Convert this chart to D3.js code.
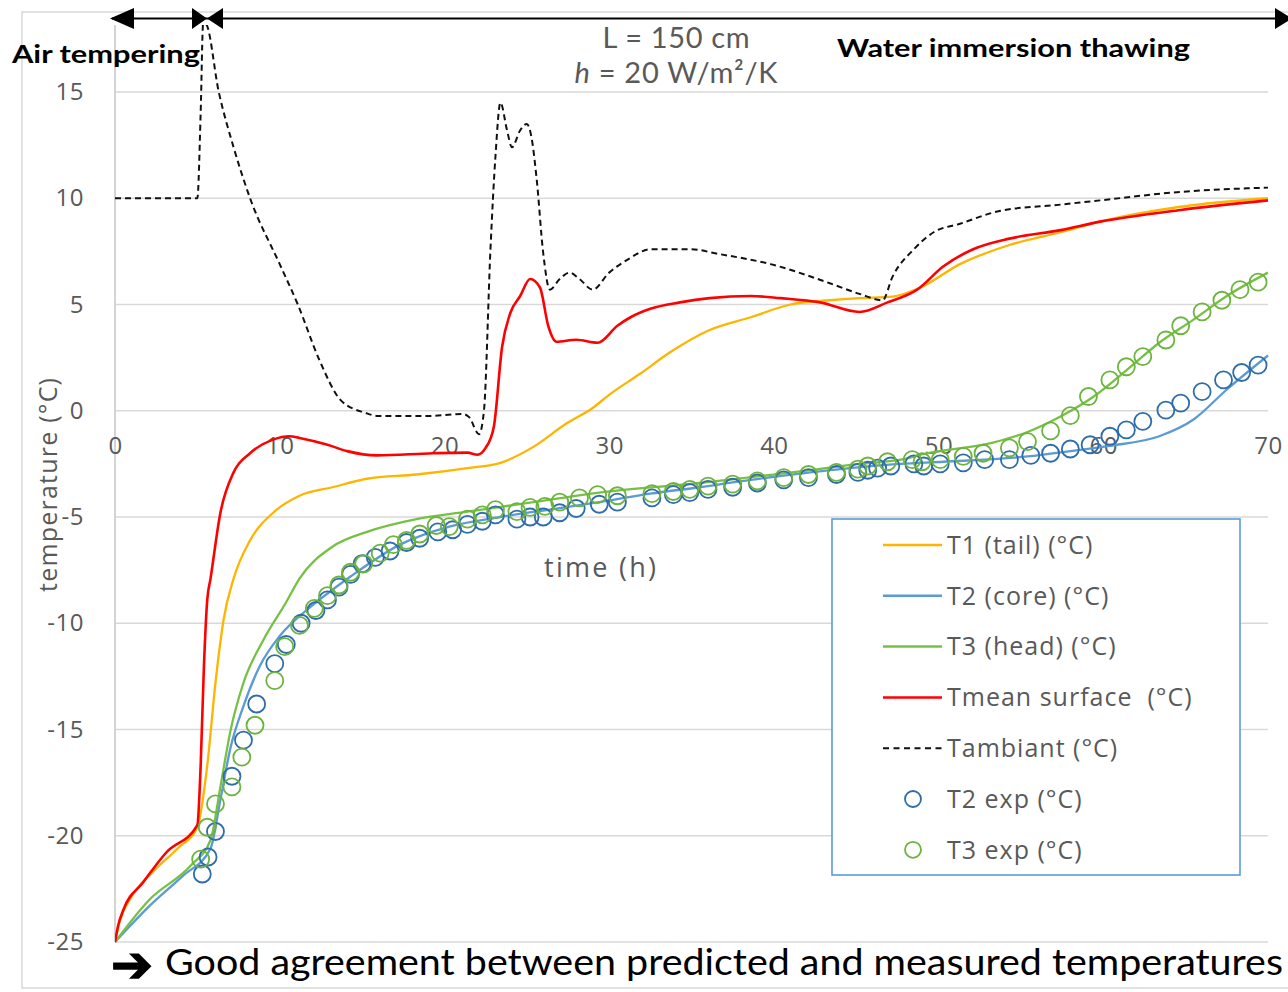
<!DOCTYPE html>
<html>
<head>
<meta charset="utf-8">
<script src="https://cdn.jsdelivr.net/npm/d3@7"></script>
<style>
  html, body { margin: 0; padding: 0; background: #fff; }
  svg { display: block; }
</style>
</head>
<body>
<svg id="chart" width="1288" height="992"></svg>
<script>
// ---------- DATA ----------
const xTicks = [0, 10, 20, 30, 40, 50, 60, 70];
const yTicks = [-25, -20, -15, -10, -5, 0, 5, 10, 15];

const seriesNames = ["T1 (tail) (°C)", "T2 (core) (°C)", "T3 (head) (°C)", "Tmean surface  (°C)", "Tambiant (°C)", "T2 exp (°C)", "T3 exp (°C)"];

const T1_tail = [[0,-25],[0.3,-24],[0.9,-23],[2.3,-21.7],[3.8,-20.6],[5.0,-19.6],[5.6,-16.7],[6.1,-12.8],[6.6,-9.8],[7.2,-7.9],[8.2,-6.1],[9.6,-4.8],[11.2,-4.0],[13.2,-3.6],[15.3,-3.2],[18.3,-3.0],[21.4,-2.7],[23.4,-2.45],[25.4,-1.7],[27.4,-0.6],[29,0.13],[30,0.75],[31.9,1.75],[33.7,2.75],[36.1,3.8],[38.6,4.4],[41,5.0],[43.4,5.2],[45.2,5.3],[47.2,5.37],[48.9,5.8],[51.3,6.9],[54.3,7.8],[57.4,8.4],[59.8,8.9],[64.7,9.6],[70,10.0]];

const T2_core = [[0,-25],[2.1,-23.3],[4.1,-21.9],[5.8,-20.6],[6.4,-18.3],[7.0,-15.9],[7.8,-13.9],[8.8,-12.0],[10,-10.6],[11.6,-9.4],[12.9,-8.6],[14.3,-7.8],[17.3,-6.3],[20.3,-5.45],[23.4,-5.0],[26.4,-4.65],[29.4,-4.3],[32.5,-3.9],[35.5,-3.6],[38.6,-3.25],[41.6,-2.96],[44.6,-2.7],[47.7,-2.5],[50.3,-2.4],[55.4,-2.15],[58,-1.9],[60.4,-1.65],[63.4,-1.2],[65.5,-0.4],[67.5,1.0],[70,2.6]];

const T3_head = [[0,-25],[2.1,-23],[4.6,-21.4],[5.8,-20.2],[6.4,-17.7],[7,-15.1],[7.8,-12.8],[9,-10.8],[10.4,-9.0],[11.2,-7.9],[13.2,-6.4],[15.3,-5.7],[18.3,-5.1],[21.4,-4.75],[25.4,-4.3],[29.4,-3.85],[35.5,-3.4],[41.6,-2.85],[45.2,-2.5],[47.7,-2.3],[49.3,-2.0],[53.3,-1.5],[55.4,-1.0],[57.4,-0.27],[59.4,0.66],[61.4,1.9],[63.4,3.2],[65.5,4.3],[67.5,5.4],[70,6.5]];

const Tmean_surface = [[0,-25],[0.2,-24.2],[0.5,-23.5],[1.7,-22.2],[3.1,-20.8],[5.0,-19.5],[5.2,-16.7],[5.4,-12],[5.6,-8.9],[5.8,-7.9],[6.4,-4.8],[7.2,-2.9],[8.2,-2.0],[9.6,-1.36],[10.6,-1.2],[11.2,-1.28],[12.9,-1.6],[14.1,-1.9],[15.9,-2.1],[19.3,-2.0],[21.4,-1.97],[22.0,-2.07],[22.5,-1.75],[23.0,-0.75],[23.5,3.0],[24.0,4.6],[24.6,5.4],[25.2,6.2],[25.8,5.8],[26.3,4.0],[26.8,3.25],[28,3.34],[29.3,3.2],[30.5,4.0],[31.3,4.4],[32.5,4.8],[34.3,5.1],[36.1,5.3],[38.6,5.4],[40.4,5.3],[42.8,5.1],[45.2,4.65],[46.9,5.1],[48.7,5.7],[50.3,6.8],[52.1,7.6],[54.3,8.1],[57.4,8.5],[59.8,8.9],[64.7,9.45],[70,9.9]];

const Tambiant = [[0,10],[5.0,10],[5.2,14],[5.35,18.2],[5.5,18.2],[6.3,15],[7.2,12.4],[8.2,10],[10,6.9],[11.1,5],[12.4,2.4],[13.7,0.5],[15.2,-0.1],[16,-0.25],[19,-0.25],[21.1,-0.15],[21.5,-0.3],[22.1,-1.1],[22.4,0],[22.8,7.7],[23.1,12],[23.4,14.5],[23.8,13.2],[24.1,12.4],[24.6,13.2],[25,13.5],[25.3,12.8],[25.6,10.9],[26,7.4],[26.4,5.7],[27.0,6.2],[27.6,6.5],[28.2,6.2],[29,5.7],[30,6.5],[31.1,7.1],[32.5,7.6],[35,7.6],[36.5,7.4],[39.8,6.9],[43.4,6.0],[45.2,5.5],[46.6,5.2],[47.2,6.3],[48.5,7.6],[49.7,8.4],[51.3,8.8],[53.7,9.4],[57.4,9.7],[59.8,9.9],[64.7,10.3],[70,10.5]];

const T2_exp = [[5.3,-21.8],[5.65,-21],[6.1,-19.8],[7.1,-17.2],[7.8,-15.5],[8.6,-13.8],[9.7,-11.9],[10.4,-11.0],[11.3,-10.0],[12.2,-9.4],[12.9,-8.9],[13.6,-8.3],[14.3,-7.7],[15.0,-7.2],[15.8,-6.9],[16.7,-6.6],[17.7,-6.2],[18.5,-6.0],[19.6,-5.7],[20.5,-5.6],[21.4,-5.35],[22.3,-5.2],[23.1,-4.9],[24.4,-5.1],[25.2,-5.0],[26,-5.0],[27,-4.8],[28,-4.6],[29.4,-4.4],[30.5,-4.3],[32.6,-4.1],[33.9,-3.95],[34.9,-3.85],[36,-3.7],[37.5,-3.6],[39,-3.4],[40.6,-3.25],[42.1,-3.15],[43.8,-3.0],[45.1,-2.9],[45.7,-2.8],[46.3,-2.7],[47.1,-2.6],[48.5,-2.5],[49.1,-2.6],[50.1,-2.5],[51.5,-2.45],[52.8,-2.3],[54.3,-2.3],[55.6,-2.1],[56.8,-2.0],[58,-1.8],[59.2,-1.6],[60.4,-1.2],[61.4,-0.9],[62.4,-0.5],[63.8,0.03],[64.7,0.36],[66,0.9],[67.3,1.45],[68.4,1.8],[69.4,2.15]];

const T3_exp = [[5.2,-21.1],[5.6,-19.6],[6.1,-18.5],[7.1,-17.7],[7.7,-16.3],[8.5,-14.8],[9.7,-12.7],[10.3,-11.1],[11.2,-10.1],[12.1,-9.3],[12.9,-8.7],[13.6,-8.2],[14.3,-7.6],[15.1,-7.2],[16.1,-6.7],[16.9,-6.3],[17.7,-6.1],[18.5,-5.8],[19.5,-5.4],[20.3,-5.45],[21.4,-5.1],[22.3,-4.9],[23.1,-4.65],[24.4,-4.75],[25.2,-4.55],[26.1,-4.5],[27,-4.3],[28.2,-4.1],[29.3,-3.95],[30.5,-4.0],[32.6,-3.9],[33.9,-3.8],[34.9,-3.7],[36,-3.55],[37.5,-3.45],[39,-3.3],[40.6,-3.15],[42.1,-3.0],[43.8,-2.9],[45.1,-2.75],[45.7,-2.6],[46.9,-2.4],[48.4,-2.3],[49,-2.4],[50.1,-2.3],[51.5,-2.15],[52.7,-2.0],[54.3,-1.75],[55.4,-1.45],[56.8,-0.95],[58,-0.23],[59.1,0.67],[60.4,1.45],[61.4,2.07],[62.4,2.55],[63.8,3.33],[64.7,4.0],[66,4.65],[67.2,5.2],[68.3,5.7],[69.4,6.05]];

// ---------- STYLES ----------
const colors = {
  t1: "#FFB400", t2: "#5B9BD5", t3: "#76C043", tmean: "#FF0000", tamb: "#111111",
  t2exp: "#2E6DAA", t3exp: "#6DB33F"
};
const axisFont = "'Open Sans', sans-serif";

// ---------- CHART ----------
const svg = d3.select("#chart");
const x = d3.scaleLinear().domain([0, 70]).range([115, 1268]);
const y = d3.scaleLinear().domain([-25, 15]).range([942, 92]);
const plotTop = y(18.15);

svg.append("rect").attr("width", 1288).attr("height", 992).attr("fill", "#fff");

// chart frame
svg.append("path").attr("d", "M1292,12 H22 V988 H1292")
  .attr("fill", "none").attr("stroke", "#d9d9d9").attr("stroke-width", 1.5);

// gridlines
svg.append("g").selectAll("line").data(yTicks).join("line")
  .attr("x1", x(0)).attr("x2", x(70))
  .attr("y1", d => y(d)).attr("y2", d => y(d))
  .attr("stroke", "#d9d9d9").attr("stroke-width", 1.5);

// vertical axis line
svg.append("line").attr("x1", x(0)).attr("x2", x(0)).attr("y1", plotTop).attr("y2", y(-25))
  .attr("stroke", "#d0d0d0").attr("stroke-width", 1.8);

// y axis labels
const yAxis = svg.append("g").attr("transform", `translate(${x(0)},0)`)
  .call(d3.axisLeft(y).tickValues(yTicks).tickSize(0).tickPadding(31).tickFormat(d => String(d)));
yAxis.select(".domain").remove();
yAxis.selectAll("text").attr("font-family", axisFont).attr("font-size", 24)
  .attr("letter-spacing", 0.5).attr("fill", "#595959");

// x axis labels (at y=0)
const xAxis = svg.append("g").attr("transform", `translate(0,${y(0)})`)
  .call(d3.axisBottom(x).tickValues(xTicks).tickSize(0).tickPadding(26).tickFormat(d => String(d)));
xAxis.select(".domain").remove();
xAxis.selectAll("text").attr("font-family", axisFont).attr("font-size", 24)
  .attr("letter-spacing", 0.5).attr("fill", "#595959");

// axis titles
svg.append("text").attr("transform", "translate(57,485) rotate(-90)")
  .attr("text-anchor", "middle").attr("font-family", axisFont)
  .attr("font-size", 25).attr("textLength", 214).attr("lengthAdjust", "spacing")
  .attr("fill", "#595959").text("temperature (°C)");
svg.append("text").attr("x", 600).attr("y", 577)
  .attr("text-anchor", "middle").attr("font-family", axisFont)
  .attr("font-size", 27).attr("textLength", 112).attr("lengthAdjust", "spacing")
  .attr("fill", "#595959").text("time (h)");

// clip
svg.append("clipPath").attr("id", "plotclip").append("rect")
  .attr("x", x(0)).attr("y", plotTop).attr("width", x(70) - x(0) + 4).attr("height", y(-25) - plotTop + 4);

const line = d3.line().x(d => x(d[0])).y(d => y(d[1])).curve(d3.curveMonotoneX);
const plot = svg.append("g").attr("clip-path", "url(#plotclip)");

const lineSeries = [
  {data: T1_tail, color: colors.t1, w: 2.3, dash: null},
  {data: T2_core, color: colors.t2, w: 2.3, dash: null},
  {data: T3_head, color: colors.t3, w: 2.3, dash: null},
  {data: Tmean_surface, color: colors.tmean, w: 2.6, dash: null},
  {data: Tambiant, color: colors.tamb, w: 2, dash: "6,4"}
];
lineSeries.forEach(s => {
  plot.append("path").attr("d", line(s.data)).attr("fill", "none")
    .attr("stroke", s.color).attr("stroke-width", s.w)
    .attr("stroke-dasharray", s.dash).attr("stroke-linejoin", "round");
});

[[T2_exp, colors.t2exp], [T3_exp, colors.t3exp]].forEach(([data, c]) => {
  plot.append("g").selectAll("circle").data(data).join("circle")
    .attr("cx", d => x(d[0])).attr("cy", d => y(d[1])).attr("r", 8.5)
    .attr("fill", "none").attr("stroke", c).attr("stroke-width", 1.8);
});

// legend
const lg = svg.append("g");
lg.append("rect").attr("x", 832).attr("y", 519).attr("width", 408).attr("height", 356)
  .attr("fill", "#fff").attr("stroke", "#5B9BD5").attr("stroke-width", 1.6);
const legendItems = [
  {name: seriesNames[0], color: colors.t1, type: "line"},
  {name: seriesNames[1], color: colors.t2, type: "line"},
  {name: seriesNames[2], color: colors.t3, type: "line"},
  {name: seriesNames[3], color: colors.tmean, type: "line"},
  {name: seriesNames[4], color: colors.tamb, type: "dash"},
  {name: seriesNames[5], color: colors.t2exp, type: "circle"},
  {name: seriesNames[6], color: colors.t3exp, type: "circle"}
];
legendItems.forEach((it, i) => {
  const cy = 545 + i * 50.8;
  if (it.type === "circle") {
    lg.append("circle").attr("cx", 913).attr("cy", cy).attr("r", 8)
      .attr("fill", "none").attr("stroke", it.color).attr("stroke-width", 1.8);
  } else {
    lg.append("line").attr("x1", 883).attr("x2", 942).attr("y1", cy).attr("y2", cy)
      .attr("stroke", it.color).attr("stroke-width", it.type === "dash" ? 2 : 2.5)
      .attr("stroke-dasharray", it.type === "dash" ? "6,4.5" : null);
  }
  lg.append("text").attr("x", 947).attr("y", cy).attr("dy", "0.35em")
    .attr("font-family", axisFont).attr("font-size", 25).attr("letter-spacing", 1)
    .attr("fill", "#595959").style("white-space", "pre").text(it.name);
});

// annotations
svg.append("text").attr("x", 676).attr("y", 48).attr("text-anchor", "middle")
  .attr("font-family", "Lato, sans-serif").attr("font-size", 29)
  .attr("textLength", 147).attr("lengthAdjust", "spacing")
  .attr("fill", "#595959").text("L = 150 cm");
const ht = svg.append("text").attr("x", 676).attr("y", 83).attr("text-anchor", "middle")
  .attr("font-family", "Lato, sans-serif").attr("font-size", 29)
  .attr("textLength", 203).attr("lengthAdjust", "spacing").attr("fill", "#595959");
ht.append("tspan").attr("font-style", "italic").text("h");
ht.append("tspan").text(" = 20 W/m²/K");

svg.append("text").attr("x", 12).attr("y", 63)
  .attr("font-family", "Lato, sans-serif").attr("font-weight", "bold").attr("font-size", 25)
  .attr("textLength", 188).attr("lengthAdjust", "spacingAndGlyphs").attr("fill", "#000").text("Air tempering");
svg.append("text").attr("x", 837).attr("y", 57)
  .attr("font-family", "Lato, sans-serif").attr("font-weight", "bold").attr("font-size", 25)
  .attr("textLength", 353).attr("lengthAdjust", "spacingAndGlyphs").attr("fill", "#000").text("Water immersion thawing");

// arrow line at top
const ar = svg.append("g").attr("fill", "#000");
ar.append("line").attr("x1", 112).attr("x2", 1288).attr("y1", 18.5).attr("y2", 18.5)
  .attr("stroke", "#000").attr("stroke-width", 2);
ar.append("path").attr("d", "M110,18.5 L134,8 L134,29 Z");
ar.append("path").attr("d", "M192,8 L207,18.5 L192,29 Z");
ar.append("path").attr("d", "M207,18.5 L223,8 L223,29 Z");
ar.append("path").attr("d", "M1275,8 L1292,18.5 L1275,29 Z");

// bottom conclusion
svg.append("text").attr("x", 111).attr("y", 964).attr("dy", "0.35em")
  .attr("font-family", "'DejaVu Sans', sans-serif").attr("font-weight", "bold").attr("font-size", 50)
  .attr("stroke", "#000").attr("stroke-width", 1.5).attr("fill", "#000").text("➔");
svg.append("text").attr("x", 165).attr("y", 975)
  .attr("font-family", "Lato, sans-serif").attr("font-size", 37)
  .attr("textLength", 1118).attr("lengthAdjust", "spacingAndGlyphs").attr("fill", "#000")
  .text("Good agreement between predicted and measured temperatures");
</script>
</body>
</html>
